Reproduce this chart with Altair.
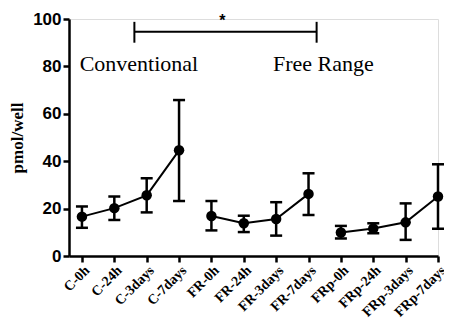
import altair as alt
import pandas as pd

categories = ["C-0h", "C-24h", "C-3days", "C-7days",
              "FR-0h", "FR-24h", "FR-3days", "FR-7days",
              "FRp-0h", "FRp-24h", "FRp-3days", "FRp-7days"]
groups = ["C"] * 4 + ["FR"] * 4 + ["FRp"] * 4
means = [16.6, 20.2, 25.6, 44.6, 16.9, 13.8, 15.6, 26.2, 9.9, 11.6, 14.2, 25.1]
upper = [20.9, 25.1, 32.8, 65.8, 23.2, 17.0, 22.7, 34.9, 12.7, 13.8, 22.2, 38.7]
lower = [11.9, 15.2, 18.4, 23.2, 10.8, 10.1, 8.6, 17.3, 7.4, 9.6, 6.8, 11.5]

bracket_x = [1.62, 7.25]
bracket_y = [94.6]
bracket_ends = [90.0, 98.8]
star_pos = [4.34, 99.0]
group_labels = ["Conventional", "Free Range"]
group_label_x = [1.76, 7.46]
group_label_y = [81, 81]

df = pd.DataFrame({"i": list(range(len(categories))), "cat": categories,
                   "group": groups, "mean": means, "hi": upper, "lo": lower})

xs = alt.Scale(domain=[-0.4, 11.0], nice=False, zero=False)
ys = alt.Scale(domain=[0, 100], nice=False)

label_arr = "[" + ",".join("'" + c + "'" for c in categories) + "]"

x_axis = alt.Axis(
    values=list(range(len(categories))), labelExpr=label_arr + "[datum.value]",
    title=None, grid=False, labelAngle=-45, labelAlign="right", labelBaseline="top",
    labelOverlap=False, labelFlush=False,
    labelFont="Liberation Serif", labelFontWeight="bold", labelFontSize=14,
    labelColor="black", domainColor="black", domainWidth=2.5, tickColor="black",
    tickWidth=2.5, tickSize=6, labelPadding=1)
y_axis = alt.Axis(
    values=[0, 20, 40, 60, 80, 100], title="pmol/well", grid=False,
    titleFont="Liberation Serif", titleFontSize=17, titleFontWeight="bold",
    titleColor="black", titlePadding=6, labelFlush=False, labelOverlap=False,
    labelFont="Liberation Sans", labelFontWeight="bold", labelFontSize=17,
    labelColor="black", domainColor="black", domainWidth=2.5, tickColor="black",
    tickWidth=2.5, tickSize=6, labelPadding=2)


def X(field):
    return alt.X(field, scale=xs, axis=x_axis)


def Y(field):
    return alt.Y(field, scale=ys, axis=y_axis)


base = alt.Chart(df)
line = base.mark_line(color="black", strokeWidth=2).encode(x=X("i:Q"), y=Y("mean:Q"), detail="group:N")
err = base.mark_rule(color="black", strokeWidth=2.5).encode(x=X("i:Q"), y=Y("lo:Q"), y2="hi:Q")
cap_hi = base.mark_tick(orient="horizontal", color="black", opacity=1, size=12,
                        thickness=2.5).encode(x=X("i:Q"), y=Y("hi:Q"))
cap_lo = base.mark_tick(orient="horizontal", color="black", opacity=1, size=12,
                        thickness=2.5).encode(x=X("i:Q"), y=Y("lo:Q"))
pts = base.mark_point(filled=True, color="black", opacity=1, size=110).encode(x=X("i:Q"), y=Y("mean:Q"))

bdf = pd.DataFrame({"x1": [bracket_x[0]], "x2": [bracket_x[1]], "y": bracket_y})
bline = alt.Chart(bdf).mark_rule(color="black", strokeWidth=2).encode(x=X("x1:Q"), x2="x2:Q", y=Y("y:Q"))
edf = pd.DataFrame({"x": bracket_x, "y1": [bracket_ends[0]] * 2, "y2": [bracket_ends[1]] * 2})
bends = alt.Chart(edf).mark_rule(color="black", strokeWidth=2).encode(x=X("x:Q"), y=Y("y1:Q"), y2="y2:Q")
sdf = pd.DataFrame({"x": [star_pos[0]], "y": [star_pos[1]], "t": ["*"]})
star = alt.Chart(sdf).mark_text(fontSize=16, font="Liberation Sans", fontWeight="bold",
                                color="black", baseline="middle").encode(x=X("x:Q"), y=Y("y:Q"), text="t:N")
gdf = pd.DataFrame({"x": group_label_x, "y": group_label_y, "t": group_labels})
glab = alt.Chart(gdf).mark_text(fontSize=22, font="Liberation Serif", color="black",
                                baseline="middle").encode(x=X("x:Q"), y=Y("y:Q"), text="t:N")

chart = alt.layer(line, err, cap_hi, cap_lo, pts, bline, bends, star, glab).properties(
    width=369, height=237, autosize=alt.AutoSizeParams(type="none"),
    padding={"left": 61, "top": 11, "right": 6, "bottom": 68}
).configure_view(stroke=None).configure(background="white")

chart.save("out.html", embed_options={"renderer": "svg", "actions": False})
